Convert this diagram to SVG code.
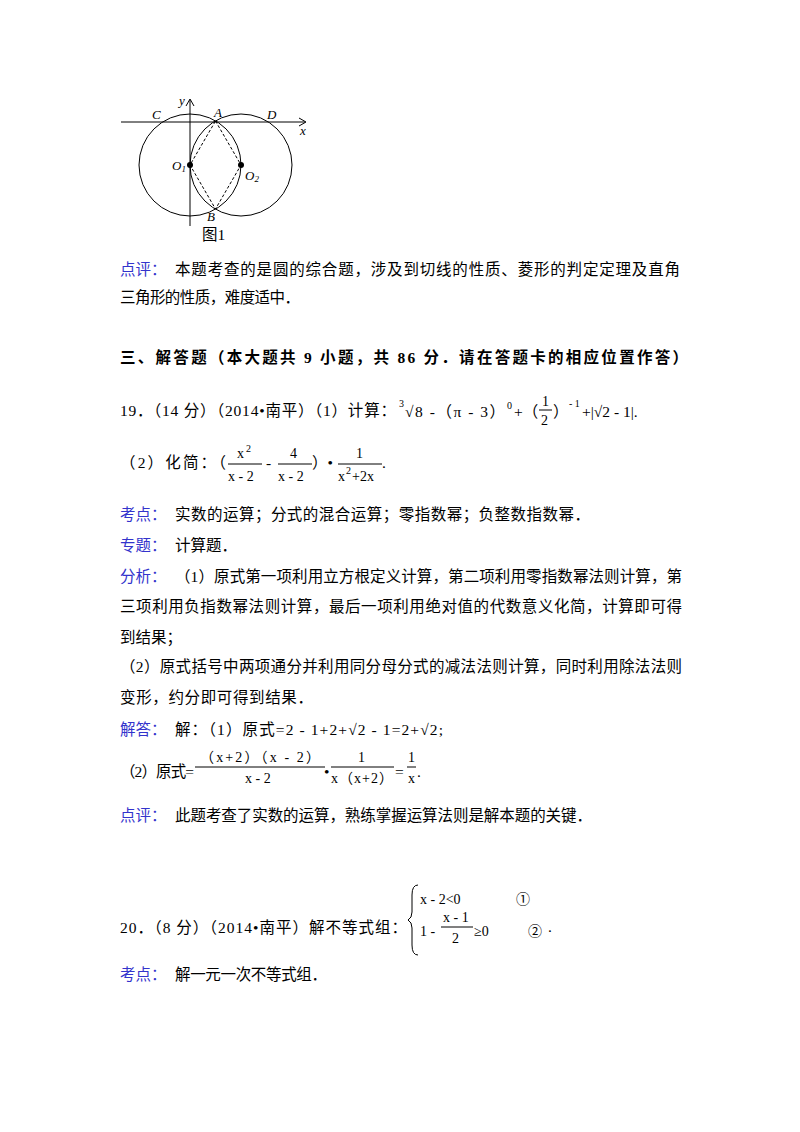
<svg xmlns="http://www.w3.org/2000/svg" width="800" height="1132" viewBox="0 0 800 1132">
<style>
text{font-family:"Liberation Serif","Noto Sans CJK SC",serif;font-size:15.5px;fill:#000}
.b{fill:#3333cc}
.bold{font-weight:bold}
.m{font-size:14px}
.s{font-size:10px}
.f{font-family:"Liberation Serif",serif;font-style:italic;font-size:13px}
.ln{stroke:#000;stroke-width:1;fill:none}
</style>
<rect width="800" height="1132" fill="#fff"/>
<g id="figure">
<line class="ln" x1="121" y1="122" x2="305" y2="122"/>
<path class="ln" d="M299 118 L306 122 L299 126"/>
<line class="ln" x1="190" y1="226" x2="190" y2="100"/>
<path class="ln" d="M186 106 L190 99 L194 106"/>
<circle class="ln" cx="190" cy="165" r="51"/>
<circle class="ln" cx="241" cy="165" r="51"/>
<path class="ln" stroke-dasharray="3,2" d="M215.5 121 L241 165 L215.5 209 L190 165 Z"/>
<circle cx="190" cy="165" r="3" fill="#000"/>
<circle cx="241" cy="165" r="3" fill="#000"/>
<text class="f" x="152" y="119">C</text>
<text class="f" x="214" y="117">A</text>
<text class="f" x="267" y="119">D</text>
<text class="f" x="300" y="135">x</text>
<text class="f" x="179" y="105">y</text>
<text class="f" x="172" y="170">O<tspan font-size="9" dy="2">1</tspan></text>
<text class="f" x="245" y="180">O<tspan font-size="9" dy="2">2</tspan></text>
<text class="f" x="207" y="221">B</text>
<text x="202" y="240" font-size="13">图1</text>
</g>
<g id="text">
<text class="b" x="120" y="275">点评：</text>
<text x="175" y="275" textLength="505">本题考查的是圆的综合题，涉及到切线的性质、菱形的判定定理及直角</text>
<text x="120" y="303" textLength="180">三角形的性质，难度适中．</text>
<text class="bold" x="120" y="363" textLength="568">三、解答题（本大题共 9 小题，共 86 分．请在答题卡的相应位置作答）</text>
<text x="120" y="416" textLength="276">19．（14 分）（2014•南平）（1）计算：</text>
<text x="399" y="407" class="s">3</text>
<text x="405" y="417" textLength="100">√8 -（π - 3）</text>
<text x="507" y="409" class="s">0</text>
<text x="514" y="417">+（</text>
<text x="542" y="406" class="m">1</text><line class="ln" x1="539" y1="410" x2="552" y2="410"/><text x="541" y="425" class="m">2</text>
<text x="553" y="417">）</text>
<text x="569" y="407" class="s">- 1</text>
<text x="582" y="417">+|√2 - 1|.</text>

<text x="120" y="468" textLength="106">（2）化简：（</text>
<text x="237" y="458" class="m">x</text><text x="246" y="452" class="s">2</text>
<line class="ln" x1="228" y1="464" x2="262" y2="464"/>
<text x="228" y="481" class="m">x - 2</text>
<text x="266" y="468">-</text>
<text x="290" y="458" class="m">4</text>
<line class="ln" x1="278" y1="464" x2="312" y2="464"/>
<text x="278" y="481" class="m">x - 2</text>
<text x="312" y="468">）•</text>
<text x="356" y="458" class="m">1</text>
<line class="ln" x1="338" y1="464" x2="382" y2="464"/>
<text x="338" y="481" class="m">x</text><text x="346" y="474" class="s">2</text><text x="352" y="481" class="m">+2x</text>
<text x="382" y="468">.</text>

<text class="b" x="120" y="520">考点：</text>
<text x="175" y="520" textLength="415">实数的运算；分式的混合运算；零指数幂；负整数指数幂．</text>
<text class="b" x="120" y="551">专题：</text>
<text x="175" y="551">计算题．</text>
<text class="b" x="120" y="582">分析：</text>
<text x="175" y="582" textLength="507">（1）原式第一项利用立方根定义计算，第二项利用零指数幂法则计算，第</text>
<text x="120" y="612" textLength="562">三项利用负指数幂法则计算，最后一项利用绝对值的代数意义化简，计算即可得</text>
<text x="120" y="643">到结果；</text>
<text x="120" y="672" textLength="562">（2）原式括号中两项通分并利用同分母分式的减法法则计算，同时利用除法法则</text>
<text x="120" y="703" textLength="193">变形，约分即可得到结果．</text>
<text class="b" x="120" y="735">解答：</text>
<text x="175" y="735" textLength="268">解：（1）原式=2 - 1+2+√2 - 1=2+√2;</text>

<text x="120" y="777" textLength="74">（2）原式=</text>
<text x="200" y="762" class="m" textLength="120">（x+2）（x - 2）</text>
<line class="ln" x1="195" y1="767" x2="325" y2="767"/>
<text x="245" y="783" class="m">x - 2</text>
<text x="324" y="777">•</text>
<text x="358" y="762" class="m">1</text>
<line class="ln" x1="331" y1="767" x2="394" y2="767"/>
<text x="331" y="783" class="m" textLength="62">x（x+2）</text>
<text x="395" y="777">=</text>
<text x="408" y="762" class="m">1</text>
<line class="ln" x1="407" y1="767" x2="416" y2="767"/>
<text x="408" y="783" class="m">x</text>
<text x="417" y="777">.</text>

<text class="b" x="120" y="821">点评：</text>
<text x="175" y="821" textLength="417">此题考查了实数的运算，熟练掌握运算法则是解本题的关键．</text>

<text x="120" y="933" textLength="287">20．（8 分）（2014•南平）解不等式组：</text>
<path class="ln" d="M418 885 Q412 885 412 895 L412 912 Q412 918 408 920 Q412 922 412 928 L412 945 Q412 955 418 955"/>
<text x="420" y="904" class="m">x - 2&lt;0</text>
<text x="516" y="904" class="m">①</text>
<text x="420" y="936" class="m">1 -</text>
<text x="443" y="922" class="m">x - 1</text>
<line class="ln" x1="441" y1="927" x2="473" y2="927"/>
<text x="452" y="943" class="m">2</text>
<text x="474" y="936" class="m">≥0</text>
<text x="528" y="936" class="m">②</text>
<text x="548" y="932">.</text>

<text class="b" x="120" y="980">考点：</text>
<text x="175" y="980" textLength="152">解一元一次不等式组．</text>
</g>
</svg>
